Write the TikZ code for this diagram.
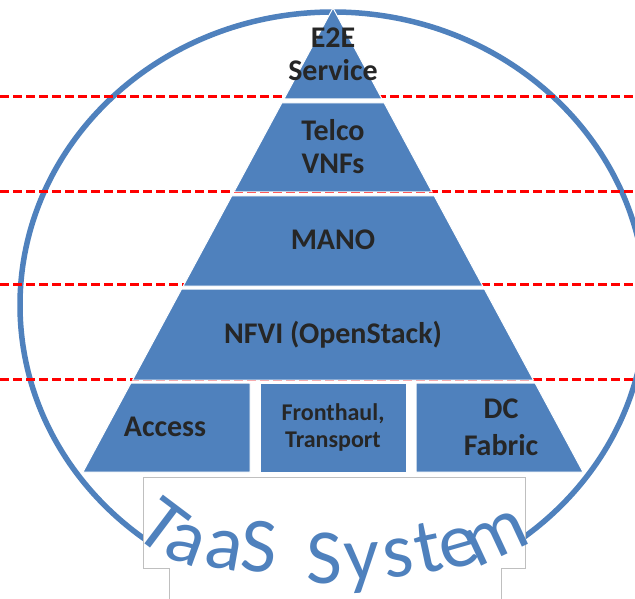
\documentclass[tikz,border=0pt]{standalone}
\usepackage{fontspec}
\setmainfont{Carlito}
\usetikzlibrary{positioning,calc}
\definecolor{layerblue}{HTML}{4F81BD}
\definecolor{labelgray}{HTML}{262626}
\tikzset{
  layer/.style={fill=layerblue,draw=white,line width=1pt},
  lbl/.style={font=\fontsize{30}{33}\selectfont\bfseries,text=labelgray,align=center,inner sep=0pt},
  lblsmall/.style={lbl,font=\fontsize{24}{27}\selectfont\bfseries},
  cut/.style={red,line width=3pt,dash pattern=on 9pt off 4pt},
  ring/.style={draw=layerblue,line width=5.5pt},
  letter/.style={font=\fontsize{78}{78}\selectfont,text=layerblue,anchor=base,inner sep=0pt}
}

\begin{document}
\begin{tikzpicture}[x=1pt,y=-1pt]
    \clip (0,0) rectangle (635,599);
    \fill[white] (0,0) rectangle (635,599);
    \draw[ring] (333,305) ellipse [x radius=313pt, y radius=293pt];
    \foreach \y in {97,192,284,379}
        \draw[cut] (0,\y) -- (635,\y);

    % pyramid
    \path[layer] (333,8) -- (382,99) -- (284,99) -- cycle;
    \path[layer] (281.8,103) -- (384.2,103) -- (432.1,192) -- (233.9,192) -- cycle;
    \path[layer] (231.7,196) -- (434.3,196) -- (482.8,286) -- (183.2,286) -- cycle;
    \path[layer] (181.6,289) -- (484.4,289) -- (533.4,380) -- (132.6,380) -- cycle;
    \path[layer] (130.9,383) -- (250,383) -- (250,472) -- (83,472) -- cycle;
    \path[layer] (260,383) rectangle (406,472);
    \path[layer] (416,383) -- (535.1,383) -- (583,472) -- (416,472) -- cycle;

    \node at (333, 54) [lbl] (e2e) {E2E\\Service};
    \node at (333, 147) [lbl] (telco) {Telco\\VNFs};
    \node at (333, 240) [lbl] (mano) {MANO};
    \node at (333, 335) [lbl] (nfvi) {NFVI (OpenStack)};
    \node at (165, 427) [lbl] (access) {Access};
    \node at (333, 427) [lblsmall] (fronthaul) {Fronthaul,\\Transport};
    \node at (501, 427.5) [lbl] (dcfabric) {DC\\[4pt]Fabric};

    % title box
    \filldraw[fill=white,draw=black!25,line width=0.8pt] (143,477) -- (525,477) -- (525,568) -- (501,568)
        -- (501,603) -- (169,603) -- (169,568) -- (143,568) -- cycle;
    \foreach \c/\x/\y/\r [count=\i] in {T/148/546/-37, a/179/562/-20, a/221/569/-10, S/257/572/-4,
        S/324/583/0, y/363/581/3, s/401/577/7, t/433/572/12, e/464/566/16, m/505/555/25}
        \node[letter,rotate=\r] (tl\i) at (\x,\y) {\c};
\end{tikzpicture}
\end{document}
